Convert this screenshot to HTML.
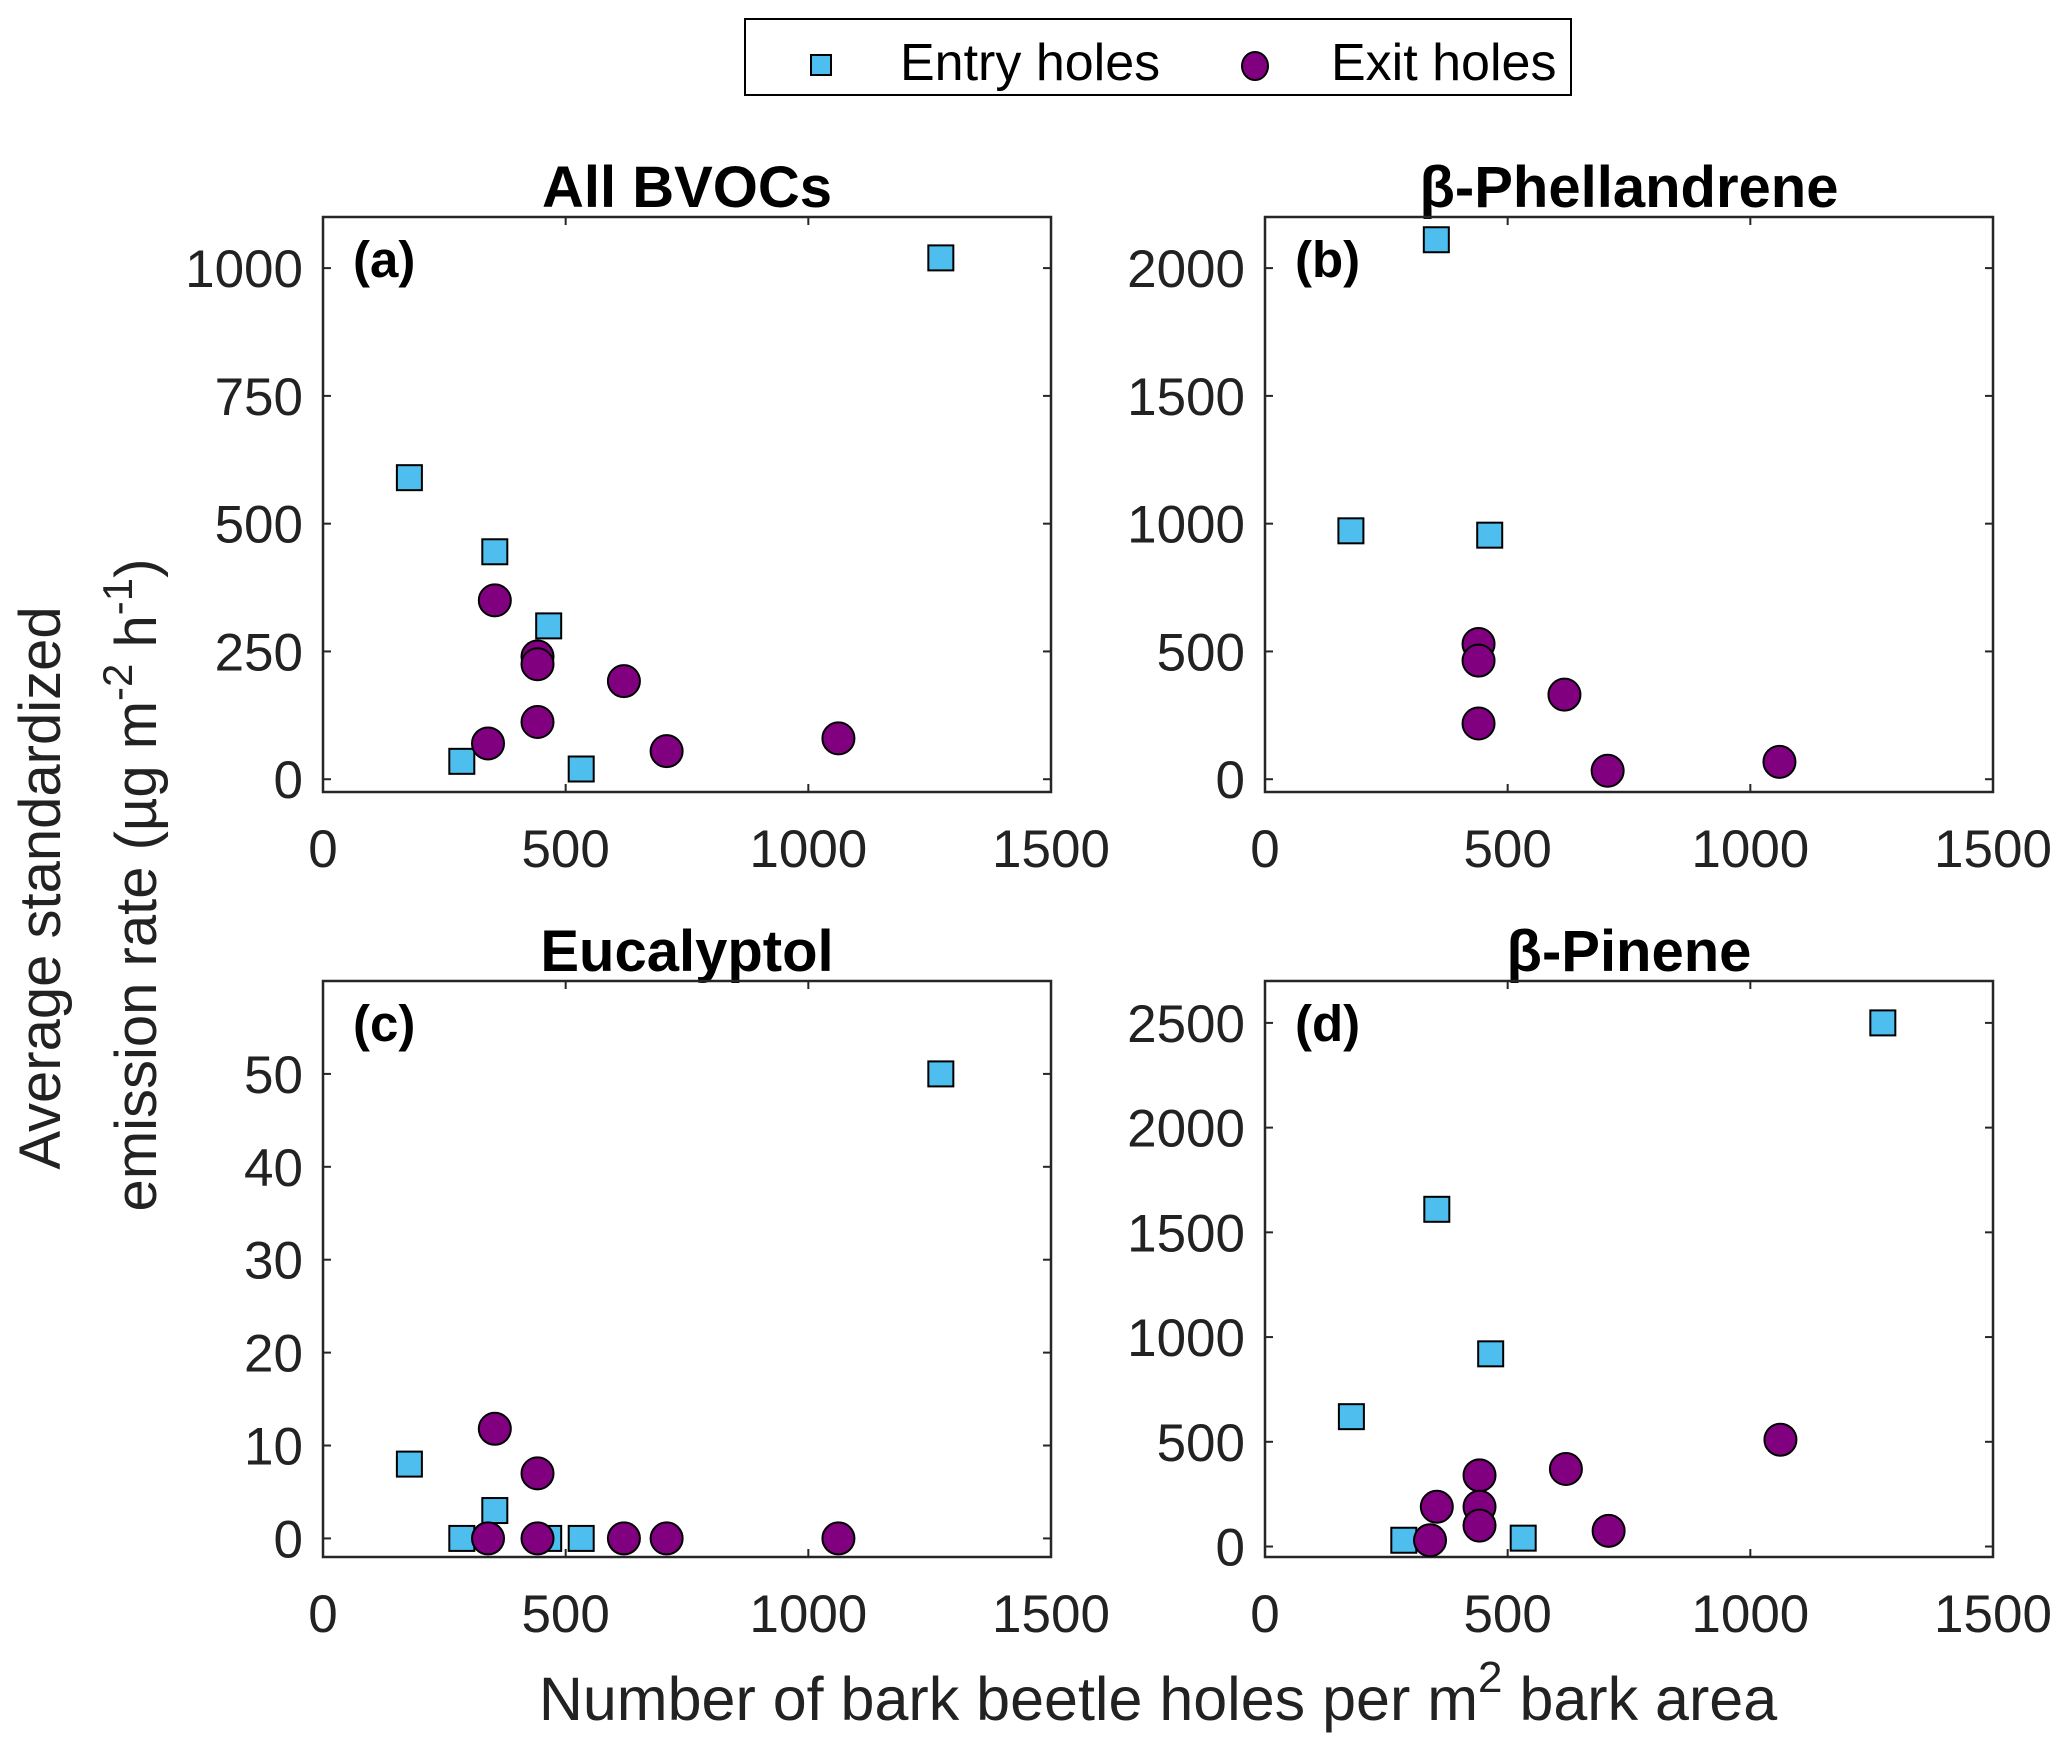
<!DOCTYPE html>
<html><head><meta charset="utf-8"><style>
html,body{margin:0;padding:0;background:#fff}
svg{display:block;font-family:"Liberation Sans",Arial,sans-serif}
</style></head><body>
<svg id="fig" width="2067" height="1752" viewBox="0 0 2067 1752" xmlns="http://www.w3.org/2000/svg">
<g>
<rect x="745" y="19" width="826" height="76" fill="#fff" stroke="#000" stroke-width="2"/>
<rect x="811" y="55" width="20" height="20" fill="#4DBEEE" stroke="#000" stroke-width="2"/>
<text x="900" y="80" font-size="52">Entry holes</text>
<ellipse cx="1255" cy="66" rx="13" ry="14" fill="#800080" stroke="#000" stroke-width="2"/>
<text x="1331" y="80" font-size="52">Exit holes</text>
</g>
<text transform="translate(60,888) rotate(-90)" text-anchor="middle" font-size="58" fill="#222">Average standardized</text>
<text transform="translate(156,885) rotate(-90)" text-anchor="middle" font-size="58" fill="#222">emission rate (µg m<tspan dy="-24" font-size="42">-2</tspan><tspan dy="24"> h</tspan><tspan dy="-24" font-size="42">-1</tspan><tspan dy="24">)</tspan></text>
<text x="1158" y="1720" text-anchor="middle" font-size="61" fill="#222">Number of bark beetle holes per m<tspan dy="-28" font-size="44">2</tspan><tspan dy="28"> bark area</tspan></text>
</svg>
<script>
// Panel (a) All BVOCs
const entryXA=[178,286,354,465,532,1273];
const entryYA=[590,35,445,300,20,1020];
const exitXA=[340,354,442,442,442,620,708,1062];
const exitYA=[70,350,240,225,112,192,55,80];
// Panel (b) beta-Phellandrene
const entryXB=[177,353,463];
const entryYB=[972,2111,955];
const exitXB=[440,440,440,617,706,1060];
const exitYB=[529,464,218,331,33,68];
// Panel (c) Eucalyptol
const entryXC=[178,286,354,465,532,1273];
const entryYC=[8,0,3,0,0,50];
const exitXC=[340,354,442,442,620,708,1062];
const exitYC=[0,11.8,7,0,0,0,0];
// Panel (d) beta-Pinene
const entryXD=[178,286,354,465,532,1273];
const entryYD=[620,30,1610,920,40,2500];
const exitXD=[340,354,442,442,442,620,708,1062];
const exitYD=[30,190,340,190,100,370,75,510];
const xTicks=[0,500,1000,1500];
const yTicksA=[0,250,500,750,1000];
const yTicksB=[0,500,1000,1500,2000];
const yTicksC=[0,10,20,30,40,50];
const yTicksD=[0,500,1000,1500,2000,2500];
const titles=["All BVOCs","β-Phellandrene","Eucalyptol","β-Pinene"];
const letters=["(a)","(b)","(c)","(d)"];

const NS="http://www.w3.org/2000/svg";
const svg=document.getElementById('fig');
function mk(tag,attrs,parent){const e=document.createElementNS(NS,tag);for(const k in attrs)e.setAttribute(k,attrs[k]);(parent||svg).appendChild(e);return e;}

const panels=[
 {key:'a',L:323,R:1051,T:217,B:792,ymin:-25,ymax:1100,yt:yTicksA,ex:entryXA,ey:entryYA,xx:exitXA,xy:exitYA},
 {key:'b',L:1265,R:1993,T:217,B:792,ymin:-50,ymax:2200,yt:yTicksB,ex:entryXB,ey:entryYB,xx:exitXB,xy:exitYB},
 {key:'c',L:323,R:1051,T:981,B:1557,ymin:-2,ymax:60,yt:yTicksC,ex:entryXC,ey:entryYC,xx:exitXC,xy:exitYC},
 {key:'d',L:1265,R:1993,T:981,B:1557,ymin:-50,ymax:2700,yt:yTicksD,ex:entryXD,ey:entryYD,xx:exitXD,xy:exitYD}
];
panels.forEach((p,i)=>{
 const g=mk('g',{});
 
 
 const sx=v=>p.L+(v-0)/(1500-0)*(p.R-p.L);
 const sy=v=>p.B-(v-p.ymin)/(p.ymax-p.ymin)*(p.B-p.T);
 const t=mk('text',{x:(p.L+p.R)/2,y:p.T-10,'text-anchor':'middle','font-size':58,'font-weight':'bold'},g);
 t.textContent=titles[i];
 
 
 xTicks.forEach(v=>{
  const x=sx(v);
  mk('line',{x1:x,y1:p.B,x2:x,y2:p.B-8,stroke:'#262626','stroke-width':2},g);
  mk('line',{x1:x,y1:p.T,x2:x,y2:p.T+8,stroke:'#262626','stroke-width':2},g);
  const l=mk('text',{x:x,y:p.B+75,'text-anchor':'middle','font-size':53,fill:'#222'},g);
  l.textContent=v;
  
  
 });
 p.yt.forEach(v=>{
  const y=sy(v);
  mk('line',{x1:p.L,y1:y,x2:p.L+8,y2:y,stroke:'#262626','stroke-width':2},g);
  mk('line',{x1:p.R,y1:y,x2:p.R-8,y2:y,stroke:'#262626','stroke-width':2},g);
  const l=mk('text',{x:p.L-20,y:y+19,'text-anchor':'end','font-size':53,fill:'#222'},g);
  l.textContent=v;
  
  
 });
 const box=mk('rect',{x:p.L,y:p.T,width:p.R-p.L,height:p.B-p.T,fill:'none',stroke:'#262626','stroke-width':2.5},g);
 
 
 const lt=mk('text',{x:p.L+30,y:p.T+60,'font-size':51,'font-weight':'bold'},g);
 lt.textContent=letters[i];
 
 
 p.ex.forEach((v,j)=>{
  const s=mk('rect',{x:sx(v)-12.5,y:sy(p.ey[j])-12.5,width:25,height:25,fill:'#4DBEEE',stroke:'#000','stroke-width':2},g);
  
  
 });
 p.xx.forEach((v,j)=>{
  const c=mk('ellipse',{cx:sx(v),cy:sy(p.xy[j]),rx:16,ry:16,fill:'#800080',stroke:'#000','stroke-width':2},g);
  
  
 });
});
</script>
</body></html>
